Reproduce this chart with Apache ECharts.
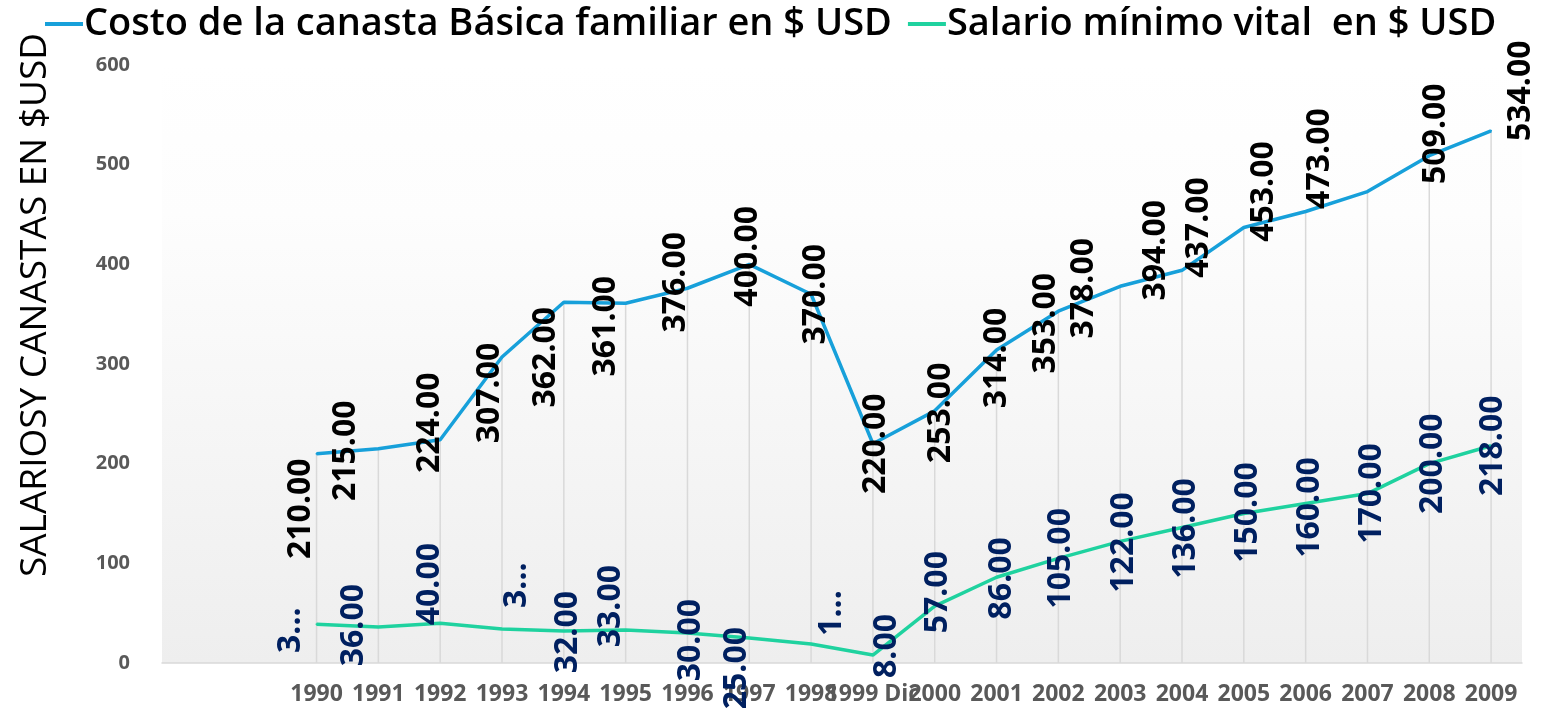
<!DOCTYPE html>
<html>
<head>
<meta charset="utf-8">
<title>Canasta básica vs salario mínimo</title>
<script src="https://cdn.jsdelivr.net/npm/echarts@6/dist/echarts.min.js"></script>
<style>
  html, body { margin: 0; padding: 0; background: #fff; }
  #main { width: 1542px; height: 715px; }
</style>
</head>
<body>
<div id="main"></div>
<script>
// años del eje (el de 1999 es "Dic")
const years = ['1990', '1991', '1992', '1993', '1994', '1995', '1996', '1997', '1998', '1999 Dic',
  '2000', '2001', '2002', '2003', '2004', '2005', '2006', '2007', '2008', '2009']
// costo de la canasta básica familiar ($ USD)
const canasta = [210, 215, 224, 307, 362, 361, 376, 400, 370, 220,
  253, 314, 353, 378, 394, 437, 453, 473, 509, 534]
// salario mínimo vital ($ USD)
const salario = [39, 36, 40, 34, 32, 33, 30, 25, 19, 8,
  57, 86, 105, 122, 136, 150, 160, 170, 200, 218]
// etiquetas que Excel dejó recortadas
const recortadas = [0, 3, 8]
const yTicks = [0, 100, 200, 300, 400, 500, 600]

// dos categorías vacías al inicio del eje, como en el original
const blanks = 2
const categories = new Array(blanks).fill('').concat(years)
const pad = arr => new Array(blanks).fill(null).concat(arr)

// desplazamiento en pantalla de cada etiqueta respecto a su punto (px)
const shiftCanasta = [[-16, 55], [-32, 2], [-10, -17], [-12, 36], [-18, 55], [-20, 23], [-12, -6], [-1, -8], [5, 0], [3, 0],
  [6, 2], [0, 8], [-12, 12], [-36, 2], [-26, -20], [-45, 0], [-42, -20], [-48, -33], [7, -22], [30, -40]]
const shiftSalario = [[-26, 6], [-24, -2], [-10, -39], [15, -44], [4, 1], [-15, -24], [3, 7], [-12, 30], [21, -31], [14, -9],
  [3, -14], [5, 1], [3, 0], [4, 1], [4, 1], [4, -1], [4, 4], [4, 0], [4, 0], [2, 0]]

// la etiqueta va girada 90°, así que el offset se gira también
const rotatedShift = (table, idx) => {
  const s = table[idx - blanks] || [0, 0]
  return { dx: -s[1], dy: s[0] }
}

const FONT = '"Open Sans", "DejaVu Sans", sans-serif'
const BLUE = '#17a0da'
const GREEN = '#1fd29f'

const chart = echarts.init(document.getElementById('main'))

const option = {
  animation: false,
  textStyle: { fontFamily: FONT },
  legend: {
    left: 40,
    top: 0,
    itemGap: 16,
    itemWidth: 38,
    itemHeight: 4,
    icon: 'rect',
    textStyle: { fontSize: 38, fontWeight: 600, color: '#000', fontFamily: FONT, padding: [0, 0, 0, -4] },
    data: ['Costo de la canasta Básica familiar en $ USD', 'Salario mínimo vital  en $ USD']
  },
  grid: {
    left: 162,
    right: 20,
    top: 65,
    bottom: 52,
    show: true,
    borderWidth: 0,
    backgroundColor: {
      type: 'linear', x: 0, y: 0, x2: 0, y2: 1,
      colorStops: [
        { offset: 0, color: '#ffffff' },
        { offset: 0.25, color: '#fdfdfd' },
        { offset: 1, color: '#eeeeee' }
      ]
    }
  },
  graphic: [{
    type: 'text',
    x: 35,
    y: 305,
    rotation: Math.PI / 2,
    style: {
      text: 'SALARIOSY CANASTAS EN $USD',
      font: '37px ' + FONT,
      fill: '#000',
      textAlign: 'center',
      textVerticalAlign: 'middle'
    }
  }],
  xAxis: {
    type: 'category',
    data: categories,
    axisLine: { lineStyle: { color: '#d9d9d9', width: 1.5 } },
    axisTick: { show: false },
    splitLine: { show: false },
    axisLabel: {
      interval: 0,
      margin: 20,
      fontSize: 23,
      fontWeight: 'bold',
      color: '#595959',
      fontFamily: FONT
    }
  },
  yAxis: {
    type: 'value',
    min: yTicks[0],
    max: yTicks[yTicks.length - 1],
    interval: 100,
    axisLine: { show: false },
    axisTick: { show: false },
    splitLine: { show: false },
    axisLabel: {
      margin: 32,
      fontSize: 20,
      fontWeight: 'bold',
      color: '#595959',
      fontFamily: FONT
    }
  },
  series: [
    {
      // líneas verticales de referencia (drop lines)
      name: 'drop',
      type: 'bar',
      data: pad(canasta),
      barWidth: 1.5,
      itemStyle: { color: '#d9d9d9' },
      silent: true,
      z: 1
    },
    {
      name: 'Costo de la canasta Básica familiar en $ USD',
      type: 'line',
      data: pad(canasta),
      color: BLUE,
      symbol: 'circle',
      symbolSize: 2,
      lineStyle: { width: 3.5, color: BLUE },
      z: 3,
      label: {
        show: true,
        position: 'inside',
        rotate: 90,
        fontSize: 32,
        fontWeight: 'bold',
        color: '#000',
        fontFamily: FONT,
        formatter: p => p.value.toFixed(2)
      },
      labelLayout: p => rotatedShift(shiftCanasta, p.dataIndex)
    },
    {
      name: 'Salario mínimo vital  en $ USD',
      type: 'line',
      data: pad(salario),
      color: GREEN,
      symbol: 'circle',
      symbolSize: 2,
      lineStyle: { width: 3.5, color: GREEN },
      z: 3,
      label: {
        show: true,
        position: 'inside',
        rotate: 90,
        fontSize: 32,
        fontWeight: 'bold',
        color: '#002060',
        fontFamily: FONT,
        formatter: p => {
          const i = p.dataIndex - blanks
          const txt = p.value.toFixed(2)
          return recortadas.includes(i) ? txt.charAt(0) + '...' : txt
        }
      },
      labelLayout: p => rotatedShift(shiftSalario, p.dataIndex)
    }
  ]
}

chart.setOption(option)
</script>
</body>
</html>
